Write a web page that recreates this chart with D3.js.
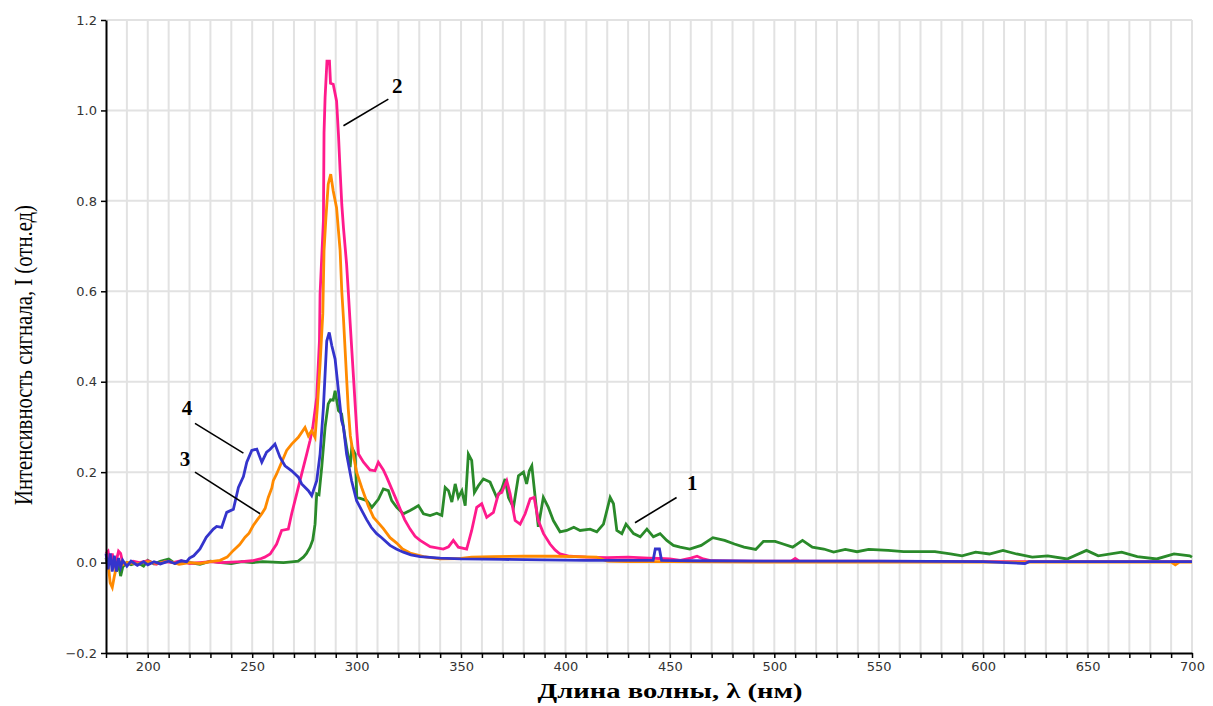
<!DOCTYPE html>
<html>
<head>
<meta charset="utf-8">
<script src="https://cdn.jsdelivr.net/npm/d3@7"></script>
<style>
  body { margin: 0; background: #fff; }
  .tick text { font-family: "DejaVu Sans", sans-serif; font-size: 13px; fill: #333; }
  .grid line { stroke: #e2e2e2; stroke-width: 2; }
  .series { fill: none; stroke-width: 2.8; stroke-linejoin: miter; }
</style>
</head>
<body>
<svg width="1213" height="706"></svg>
<script>
var WIDTH = 1213, HEIGHT = 706;

// wavelength ticks and intensity ticks
var xMinor = d3.range(180, 701, 10);
var yTicks = [-0.2, 0.0, 0.2, 0.4, 0.6, 0.8, 1.0, 1.2];

// curve 1 (green)
var curve1 = [[180,0.01],[181,-0.01],[182,0.015],[183,-0.005],[184,0.01],[185,-0.02],[186,0.0],[187,-0.03],[188,-0.01],[190,0.0],[192,-0.005],[195,0.0],[198,-0.008],[200,0.005],[203,-0.003],[206,0.003],[210,0.008],[213,-0.002],[216,0.002],[220,0.0],[225,-0.004],[230,0.003],[235,0.0],[240,-0.002],[245,0.002],[250,0.0],[255,0.002],[260,0.001],[265,0.0],[270,0.002],[272,0.003],[274.5,0.012],[276,0.02],[277.7,0.034],[279,0.05],[280.1,0.085],[280.9,0.152],[282,0.15],[283.3,0.211],[284.9,0.299],[286.4,0.351],[287.5,0.36],[288.8,0.359],[289.7,0.38],[291.3,0.336],[292.8,0.329],[294,0.29],[295.2,0.255],[296.9,0.211],[297.7,0.255],[299.3,0.24],[300.1,0.144],[302.5,0.141],[304.9,0.137],[307.3,0.122],[310.4,0.14],[312.8,0.163],[315.2,0.159],[316.8,0.137],[319.2,0.122],[322.4,0.108],[325.6,0.115],[327.5,0.12],[329.6,0.126],[332,0.108],[335.2,0.104],[338.4,0.109],[340.8,0.104],[342.4,0.166],[344,0.159],[345.6,0.134],[347.2,0.174],[348.7,0.144],[350.4,0.159],[352,0.126],[353.5,0.24],[355.1,0.226],[356.4,0.155],[358.3,0.17],[360.7,0.185],[363.9,0.178],[367.1,0.144],[369.5,0.163],[371.1,0.185],[372.7,0.144],[375.1,0.122],[377.5,0.192],[379.9,0.2],[381.4,0.174],[382.7,0.203],[383.9,0.214],[385.5,0.144],[387,0.079],[389.4,0.144],[391.8,0.122],[394.2,0.093],[397.4,0.068],[400.6,0.071],[404,0.078],[407,0.071],[411.8,0.074],[415,0.068],[418.2,0.085],[421.4,0.144],[423,0.13],[424.6,0.071],[427,0.064],[429,0.085],[432.6,0.064],[435.8,0.057],[439,0.074],[442.1,0.057],[445.3,0.064],[448.5,0.049],[451.7,0.038],[454.9,0.034],[459.5,0.03],[465,0.038],[470.6,0.055],[476.2,0.049],[480.9,0.041],[485.5,0.034],[491.1,0.029],[494.8,0.047],[500.4,0.047],[504.2,0.041],[508.8,0.034],[513.5,0.049],[518.2,0.034],[523.7,0.03],[528.4,0.023],[534,0.029],[539.6,0.024],[545.2,0.029],[554.5,0.027],[561.9,0.024],[569.4,0.024],[576.9,0.024],[584.3,0.019],[589.9,0.015],[596.4,0.023],[603,0.019],[609.5,0.027],[616,0.019],[623.5,0.012],[630.9,0.015],[640.2,0.008],[649.5,0.027],[655.1,0.015],[666.3,0.023],[673.8,0.013],[683.1,0.008],[691.4,0.019],[698.9,0.015],[700,0.012]];

// curve 2 (pink)
var curve2 = [[180,0.02],[181,0.025],[182,0.0],[183,0.02],[184,-0.005],[185,0.005],[186,0.025],[187,0.02],[188,0.0],[190,-0.005],[193,0.003],[196,0.0],[200,0.004],[204,-0.004],[208,0.002],[212,0.0],[216,0.004],[220,-0.002],[225,0.0],[230,0.002],[235,0.0],[240,0.001],[245,0.002],[250,0.004],[253.8,0.008],[256,0.012],[258.6,0.019],[261.7,0.041],[264.1,0.071],[267.3,0.074],[268.9,0.108],[271.3,0.152],[273.7,0.196],[276.1,0.24],[277.7,0.27],[279,0.299],[280.9,0.365],[282.2,0.49],[282.5,0.594],[283.3,0.675],[284.1,0.756],[284.4,0.951],[284.9,1.028],[285.8,1.109],[287,1.109],[287.5,1.06],[288.8,1.058],[290.4,1.021],[291.3,0.947],[292.1,0.866],[292.9,0.792],[293.7,0.741],[295.2,0.66],[296,0.6],[296.9,0.53],[297.7,0.47],[298.5,0.41],[299.3,0.35],[300.1,0.29],[300.9,0.24],[303.3,0.222],[306.4,0.205],[308.8,0.203],[310.4,0.222],[312.8,0.205],[314.4,0.189],[316.8,0.163],[319.2,0.137],[320.8,0.119],[323,0.095],[325.6,0.074],[328,0.058],[330.4,0.049],[335.2,0.035],[341.5,0.03],[344,0.035],[346.3,0.049],[348.7,0.034],[352.7,0.03],[355.1,0.071],[357.5,0.122],[359.9,0.13],[362.3,0.1],[365.5,0.111],[367.9,0.152],[369.5,0.155],[371.9,0.181],[373.5,0.152],[375.9,0.093],[378.3,0.085],[380.7,0.108],[383.1,0.141],[385,0.144],[387,0.093],[389.5,0.064],[392.6,0.041],[395,0.028],[397.4,0.019],[402,0.014],[410,0.012],[420,0.011],[430,0.012],[440,0.01],[445,0.009],[450,0.008],[455,0.005],[460,0.01],[463,0.014],[466,0.008],[470,0.004],[490,0.003],[508,0.003],[510,0.009],[512,0.003],[540,0.003],[600,0.002],[650,0.002],[700,0.002]];

// curve 3 (orange)
var curve3 = [[180,0.01],[181,0.0],[182,-0.045],[183,-0.055],[184,-0.03],[185,-0.01],[186,0.005],[188,-0.005],[190,0.0],[195,-0.003],[200,0.002],[205,-0.002],[210,0.003],[215,-0.004],[220,0.0],[225,-0.002],[230,0.002],[234.6,0.005],[238,0.012],[241,0.027],[244,0.04],[246.6,0.056],[248.5,0.065],[250.5,0.082],[252.5,0.095],[254.6,0.108],[256.2,0.12],[257.7,0.144],[259.4,0.165],[260.1,0.181],[261.7,0.196],[264.1,0.222],[266.5,0.248],[268.9,0.262],[272.1,0.277],[275.3,0.299],[276.9,0.28],[278.5,0.292],[280.1,0.277],[281.2,0.343],[282.5,0.439],[283.8,0.55],[284.4,0.69],[285.3,0.763],[286.4,0.837],[287.6,0.859],[288.8,0.822],[290.4,0.785],[291.3,0.734],[292.1,0.69],[292.9,0.6],[293.7,0.54],[294.5,0.47],[295.3,0.4],[296,0.34],[297,0.28],[298.4,0.24],[300,0.2],[302.5,0.165],[305.6,0.125],[308.1,0.1],[310,0.09],[312.8,0.075],[316,0.055],[319.2,0.043],[322,0.03],[325.6,0.021],[332,0.013],[340,0.008],[350,0.009],[355,0.012],[365,0.013],[380,0.014],[395,0.014],[405,0.013],[415,0.012],[420,0.003],[430,0.002],[450,0.002],[500,0.001],[600,0.001],[650,0.001],[690,0.001],[692,-0.005],[694,0.001],[700,0.001]];

// curve 4 (blue)
var curve4 = [[180,0.02],[181,-0.015],[182,0.02],[183,-0.02],[184,0.015],[185,-0.02],[186,0.01],[187,-0.01],[188,0.005],[190,-0.008],[192,0.003],[195,-0.006],[198,0.002],[200,-0.005],[203,0.002],[206,-0.003],[210,0.003],[213,-0.002],[216,0.004],[218.6,0.002],[220,0.01],[222,0.015],[225,0.03],[228,0.056],[231.4,0.074],[233,0.08],[235.4,0.078],[237.8,0.111],[241,0.118],[243.4,0.166],[245.8,0.19],[247.4,0.222],[249.8,0.248],[252.2,0.251],[254.6,0.222],[256.9,0.244],[258.5,0.25],[260.9,0.262],[263.3,0.233],[265.7,0.214],[268.9,0.203],[272.1,0.189],[273.7,0.174],[276.9,0.159],[278.5,0.148],[280.9,0.181],[282.5,0.24],[284.1,0.343],[285.7,0.49],[286.9,0.509],[288.1,0.48],[289.7,0.45],[291.3,0.38],[292.8,0.314],[293.7,0.3],[295.2,0.24],[297.6,0.181],[300,0.137],[302.5,0.115],[304.8,0.095],[307,0.078],[309.6,0.064],[312,0.055],[316,0.038],[319,0.03],[322.4,0.023],[326,0.017],[330.4,0.013],[340,0.01],[350,0.008],[370,0.007],[390,0.006],[410,0.005],[430,0.005],[442,0.005],[443,0.03],[445,0.03],[446,0.005],[460,0.004],[500,0.003],[550,0.003],[600,0.002],[620,-0.002],[622,0.002],[650,0.002],[700,0.002]];

var seriesList = [
  { data: curve1, color: "#2a8a2a" },
  { data: curve2, color: "#ff1a8c" },
  { data: curve3, color: "#ff8a00" },
  { data: curve4, color: "#3434cc" }
];

// numbered callouts: label position and leader line, in data units
var callouts = [
  { label: "1", at: [460.7, 0.177], from: [453.2, 0.144], to: [433.3, 0.088] },
  { label: "2", at: [319.4, 1.054], from: [315.2, 1.025], to: [293.7, 0.966] },
  { label: "3", at: [217.8, 0.23],  from: [222.6, 0.2],   to: [253.8, 0.108] },
  { label: "4", at: [218.8, 0.341], from: [222.6, 0.308], to: [245.8, 0.242] }
];

var margin = { left: 106, right: 21, top: 20, bottom: 53 };

function drawChart () {
  var svg = d3.select("svg");
  var x = d3.scaleLinear().domain([180, 700]).range([margin.left, WIDTH - margin.right]);
  var y = d3.scaleLinear().domain([-0.2, 1.2]).range([HEIGHT - margin.bottom, margin.top]);

  // grid
  svg.append("g").attr("class", "grid")
    .selectAll("line").data(xMinor.filter(function (d) { return d > 180; }))
    .enter().append("line")
    .attr("x1", function (d) { return x(d); }).attr("x2", function (d) { return x(d); })
    .attr("y1", y(1.2)).attr("y2", y(-0.2));
  svg.append("g").attr("class", "grid")
    .selectAll("line").data(yTicks.filter(function (d) { return d > -0.2; }))
    .enter().append("line")
    .attr("x1", x(180)).attr("x2", x(700))
    .attr("y1", function (d) { return y(d); }).attr("y2", function (d) { return y(d); });

  // curves
  var line = d3.line()
    .x(function (d) { return x(d[0]); })
    .y(function (d) { return y(d[1]); });
  svg.append("g").selectAll("path").data(seriesList)
    .enter().append("path")
    .attr("class", "series")
    .attr("stroke", function (d) { return d.color; })
    .attr("d", function (d) { return line(d.data); });

  // axes
  var xAxis = d3.axisBottom(x).tickValues(xMinor).tickSize(5).tickSizeOuter(0)
    .tickPadding(4)
    .tickFormat(function (d) { return d % 50 === 0 ? d : ""; });
  var gx = svg.append("g").attr("transform", "translate(0," + y(-0.2) + ")").call(xAxis);
  var yAxis = d3.axisLeft(y).tickValues(yTicks).tickSize(5).tickSizeOuter(0)
    .tickPadding(4).tickFormat(d3.format(".1f"));
  var gy = svg.append("g").attr("transform", "translate(" + x(180) + ",0)").call(yAxis);
  [gx, gy].forEach(function (g) {
    g.select(".domain").attr("stroke", "#000").attr("stroke-width", 2);
    g.selectAll(".tick line").attr("stroke", "#000").attr("stroke-width", 1.5);
  });

  // callouts
  callouts.forEach(function (c) {
    svg.append("line")
      .attr("x1", x(c.from[0])).attr("y1", y(c.from[1]))
      .attr("x2", x(c.to[0])).attr("y2", y(c.to[1]))
      .attr("stroke", "#000").attr("stroke-width", 1.6);
    svg.append("text")
      .text(c.label)
      .attr("x", x(c.at[0])).attr("y", y(c.at[1]))
      .attr("text-anchor", "middle").attr("dominant-baseline", "central")
      .style("font-family", "'Liberation Serif', serif")
      .style("font-weight", "bold").style("font-size", "21px");
  });

  // axis titles
  svg.append("text")
    .text("Длина волны, λ (нм)")
    .attr("x", 670).attr("y", 698)
    .attr("text-anchor", "middle")
    .attr("textLength", 265).attr("lengthAdjust", "spacingAndGlyphs")
    .style("font-family", "'Liberation Serif', serif")
    .style("font-weight", "bold").style("font-size", "20px");
  svg.append("text")
    .text("Интенсивность сигнала, I (отн.ед)")
    .attr("transform", "translate(32,355) rotate(-90)")
    .attr("text-anchor", "middle")
    .attr("textLength", 300).attr("lengthAdjust", "spacingAndGlyphs")
    .style("font-family", "'Liberation Serif', serif")
    .style("font-size", "26px");
}

drawChart();
</script>
</body>
</html>
